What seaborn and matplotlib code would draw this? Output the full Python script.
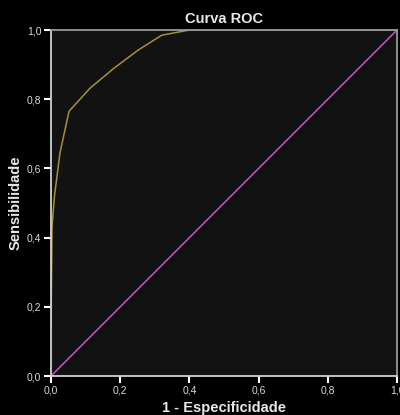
import matplotlib
matplotlib.use("Agg")
import matplotlib.pyplot as plt
import seaborn as sns
import pandas as pd

# ROC curve data (1 - specificity, sensitivity)
fpr = [0.0, 0.0, 0.003, 0.010, 0.026, 0.052, 0.113, 0.180, 0.252, 0.320, 0.400, 1.0]
tpr = [0.0, 0.28, 0.43, 0.52, 0.645, 0.765, 0.832, 0.888, 0.942, 0.985, 1.0, 1.0]
ref_x = [0.0, 1.0]
ref_y = [0.0, 1.0]
ticks = [0.0, 0.2, 0.4, 0.6, 0.8, 1.0]
tick_labels = ["0,0", "0,2", "0,4", "0,6", "0,8", "1,0"]

sns.set_style("dark")
plt.rcParams['font.family'] = ['Liberation Sans', 'DejaVu Sans']

fig = plt.figure(figsize=(4.0, 4.15), dpi=100, facecolor="black")
ax = fig.add_axes([51/400, 39/415, 346/400, 346/415])
ax.set_facecolor("#121212")

roc = pd.DataFrame({"fpr": fpr, "tpr": tpr})
ref = pd.DataFrame({"x": ref_x, "y": ref_y})
sns.lineplot(data=ref, x="x", y="y", ax=ax, color="#c452c4", linewidth=1.1, sort=False)
sns.lineplot(data=roc, x="fpr", y="tpr", ax=ax, color="#a88f3c", linewidth=1.1, sort=False)

ax.set_xlim(0, 1)
ax.set_ylim(0, 1)
ax.set_xticks(ticks)
ax.set_yticks(ticks)
ax.set_xticklabels(tick_labels)
ax.set_yticklabels(tick_labels)
ax.grid(False)
ax.tick_params(axis="both", direction="out", length=5, width=1.5, color="white",
               labelcolor="#d8d8d8", labelsize=7.5, pad=2, bottom=True, left=True)
for s in ["left", "bottom"]:
    ax.spines[s].set_color("#d0d0d0")
    ax.spines[s].set_linewidth(1.3)
for s in ["top", "right"]:
    ax.spines[s].set_color("#9a9a9a")
    ax.spines[s].set_linewidth(1.3)
for s in ax.spines.values():
    s.set_visible(True)

ax.set_title("Curva ROC", color="#e8e8e8", fontsize=10.5, fontweight="bold", pad=5)
ax.set_xlabel("1 - Especificidade", color="#e8e8e8", fontsize=10.5, fontweight="bold", labelpad=4)
ax.set_ylabel("Sensibilidade", color="#e8e8e8", fontsize=10.5, fontweight="bold", labelpad=3)

fig.savefig("out.png", dpi=100, facecolor="black")
